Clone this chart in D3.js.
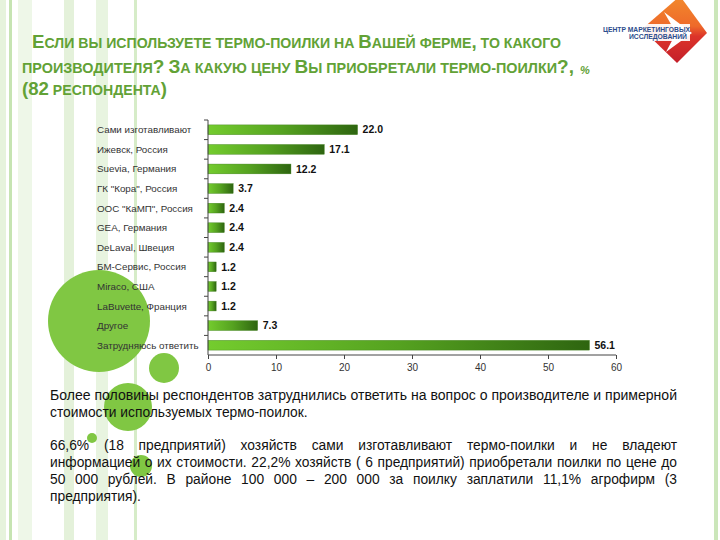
<!DOCTYPE html>
<html><head><meta charset="utf-8">
<script src="https://cdn.jsdelivr.net/npm/d3@7"></script>
<style>
html,body{margin:0;padding:0;background:#fff;}
svg{display:block;font-family:"Liberation Sans",Arial,sans-serif;}
</style></head>
<body>
<script>
const categories = ["Сами изготавливают","Ижевск, Россия","Suevia, Германия","ГК \"Кора\", Россия","ООС \"КаМП\", Россия","GEA, Германия","DeLaval, Швеция","БМ-Сервис, Россия","Miraco, США","LaBuvette, Франция","Другое","Затрудняюсь ответить"];
const values = [22.0,17.1,12.2,3.7,2.4,2.4,2.4,1.2,1.2,1.2,7.3,56.1];
const xTicks = [0,10,20,30,40,50,60];
const titleLines = ["Если вы используете термо-поилки на Вашей ферме, то какого","производителя? За какую цену Вы приобретали термо-поилки?,","(82 респондента)"];
const bodyLines = [
 "Более половины респондентов затруднились ответить на вопрос о производителе  и примерной",
 "стоимости используемых термо-поилок.",
 "66,6% (18 предприятий) хозяйств сами изготавливают  термо-поилки и не владеют",
 "информацией о их стоимости. 22,2%  хозяйств ( 6 предприятий) приобретали поилки по цене до",
 "50 000 рублей. В районе 100 000 – 200 000 за поилку заплатили 11,1% агрофирм (3",
 "предприятия)."
];

const W=720,H=540;
const svg=d3.select("body").append("svg").attr("width",W).attr("height",H);
const defs=svg.append("defs");
const g1=defs.append("linearGradient").attr("id","barGrad").attr("x1",0).attr("x2",1).attr("y1",0).attr("y2",0);
g1.append("stop").attr("offset",0).attr("stop-color","#74cc2e");
g1.append("stop").attr("offset",0.5).attr("stop-color","#55a220");
g1.append("stop").attr("offset",1).attr("stop-color","#2e6510");
const g2=defs.append("linearGradient").attr("id","logoGrad").attr("x1",0).attr("x2",0).attr("y1",0).attr("y2",1);
g2.append("stop").attr("offset",0).attr("stop-color","#f28a2c");
g2.append("stop").attr("offset",0.45).attr("stop-color","#ee6a2a");
g2.append("stop").attr("offset",0.6).attr("stop-color","#dc342a");
g2.append("stop").attr("offset",1).attr("stop-color","#c41f2a");

// background stripes
const stripes=[[0,6,"#e6f3dc"],[9,3,"#c6e4b2"],[18,14,"#eef7e8"],[64,10,"#e4f1da"],[96,12,"#e8f4e0"],[134,3,"#d6ecc8"],[714,4,"#cbe6ba"]];
svg.selectAll("rect.stripe").data(stripes).join("rect").attr("class","stripe")
 .attr("x",d=>d[0]).attr("y",0).attr("width",d=>d[1]).attr("height",H).attr("fill",d=>d[2]);

// circles
const circles=[[99,321,51],[164,368,15],[128,407,24],[92,438,5],[141,466,11]];
svg.selectAll("circle.deco").data(circles).join("circle").attr("class","deco")
 .attr("cx",d=>d[0]).attr("cy",d=>d[1]).attr("r",d=>d[2]).attr("fill","#80c743");

// logo
const lg=svg.append("g");
lg.append("polygon").attr("points","680,-4 707,33 677,63 642,29").attr("fill","url(#logoGrad)");
lg.append("polygon").attr("points","664,12 692,33 666,52 676,33").attr("fill","#fff");
lg.append("rect").attr("x",601).attr("y",24).attr("width",89).attr("height",17).attr("fill","#fff").attr("opacity",0.92);
lg.append("text").attr("x",690).attr("y",31.5).attr("text-anchor","end").attr("font-size",6.8).attr("font-weight","bold").attr("fill","#2b4c8c").attr("textLength",87).attr("lengthAdjust","spacingAndGlyphs").text("ЦЕНТР МАРКЕТИНГОВЫХ");
lg.append("text").attr("x",687).attr("y",39).attr("text-anchor","end").attr("font-size",6.8).attr("font-weight","bold").attr("fill","#2b4c8c").text("ИССЛЕДОВАНИЙ");

// title small caps
const tPos=[[32,48,529],[22,73,552],[22,95,145]];
titleLines.forEach((line,i)=>{
  const t=svg.append("text").attr("x",tPos[i][0]).attr("y",tPos[i][1]).attr("fill","#62a236").attr("font-weight","bold")
   .attr("textLength",tPos[i][2]).attr("lengthAdjust","spacingAndGlyphs");
  for(const ch of line){
    const up = ch!==ch.toLowerCase() || /[0-9()?,]/.test(ch);
    t.append("tspan").attr("font-size", up?18.5:14).text(ch.toUpperCase());
  }
});
svg.append("text").attr("x",580).attr("y",74).attr("font-size",11).attr("font-style","italic").attr("font-weight","bold").attr("fill","#62a236").text("%");

// chart
const x=d3.scaleLinear().domain([0,60]).range([208,616]);
const y=d3.scaleBand().domain(categories).range([120,355]).paddingInner(0.5).paddingOuter(0.25);
const band=(355-120)/categories.length;
svg.selectAll("rect.bar").data(values).join("rect").attr("class","bar")
 .attr("x",x(0)).attr("y",(d,i)=>y(categories[i])).attr("width",d=>x(d)-x(0)).attr("height",y.bandwidth())
 .attr("fill","url(#barGrad)").attr("stroke","#3f7f1c").attr("stroke-width",0.4);
svg.selectAll("text.val").data(values).join("text").attr("class","val")
 .attr("x",d=>x(d)+5).attr("y",(d,i)=>y(categories[i])+y.bandwidth()/2+3.7)
 .attr("font-size",10.5).attr("font-weight","bold").attr("fill","#111").text(d=>d.toFixed(1));
svg.selectAll("text.cat").data(categories).join("text").attr("class","cat")
 .attr("x",97).attr("y",d=>y(d)+y.bandwidth()/2+3.5).attr("font-size",9.8).attr("fill","#333").text(d=>d);

// axes
const ax=svg.append("g").attr("stroke","#444").attr("stroke-width",1);
ax.append("line").attr("x1",x(0)).attr("x2",x(0)).attr("y1",120).attr("y2",355);
d3.range(categories.length).forEach(i=>{
  ax.append("line").attr("x1",x(0)-4).attr("x2",x(0)).attr("y1",120+i*band).attr("y2",120+i*band);
});
const xAxis=svg.append("g").attr("transform","translate(0,355)")
 .call(d3.axisBottom(x).tickValues(xTicks).tickSize(4).tickFormat(d3.format("d")));
xAxis.select(".domain").attr("stroke","#444").attr("d",`M${x(0)},0H${x(60)}`);
xAxis.selectAll(".tick line").attr("stroke","#444");
xAxis.selectAll(".tick text").attr("font-size",10).attr("fill","#333").attr("font-family","Liberation Sans, Arial, sans-serif").attr("dy","0.9em");

// body text
const bx=50,bw=627,fs=13.8;
const bY=[400,417,450,467,484,501];
const justify=[false,false,true,true,true,false];
bodyLines.forEach((line,i)=>{
  if(!justify[i]){
    const t=svg.append("text").attr("x",bx).attr("y",bY[i]).attr("font-size",fs).attr("fill","#111").text(line);
    if(i===0) t.attr("textLength",bw).attr("lengthAdjust","spacingAndGlyphs");
  } else {
    const words=line.split(/\s+/).filter(w=>w.length);
    const nodes=words.map(w=>svg.append("text").attr("y",bY[i]).attr("font-size",fs).attr("fill","#111").text(w));
    const widths=nodes.map(n=>n.node().getComputedTextLength());
    const gap=(bw-d3.sum(widths))/(words.length-1);
    let cx=bx;
    nodes.forEach((n,k)=>{n.attr("x",cx);cx+=widths[k]+gap;});
  }
});
</script>
</body></html>
